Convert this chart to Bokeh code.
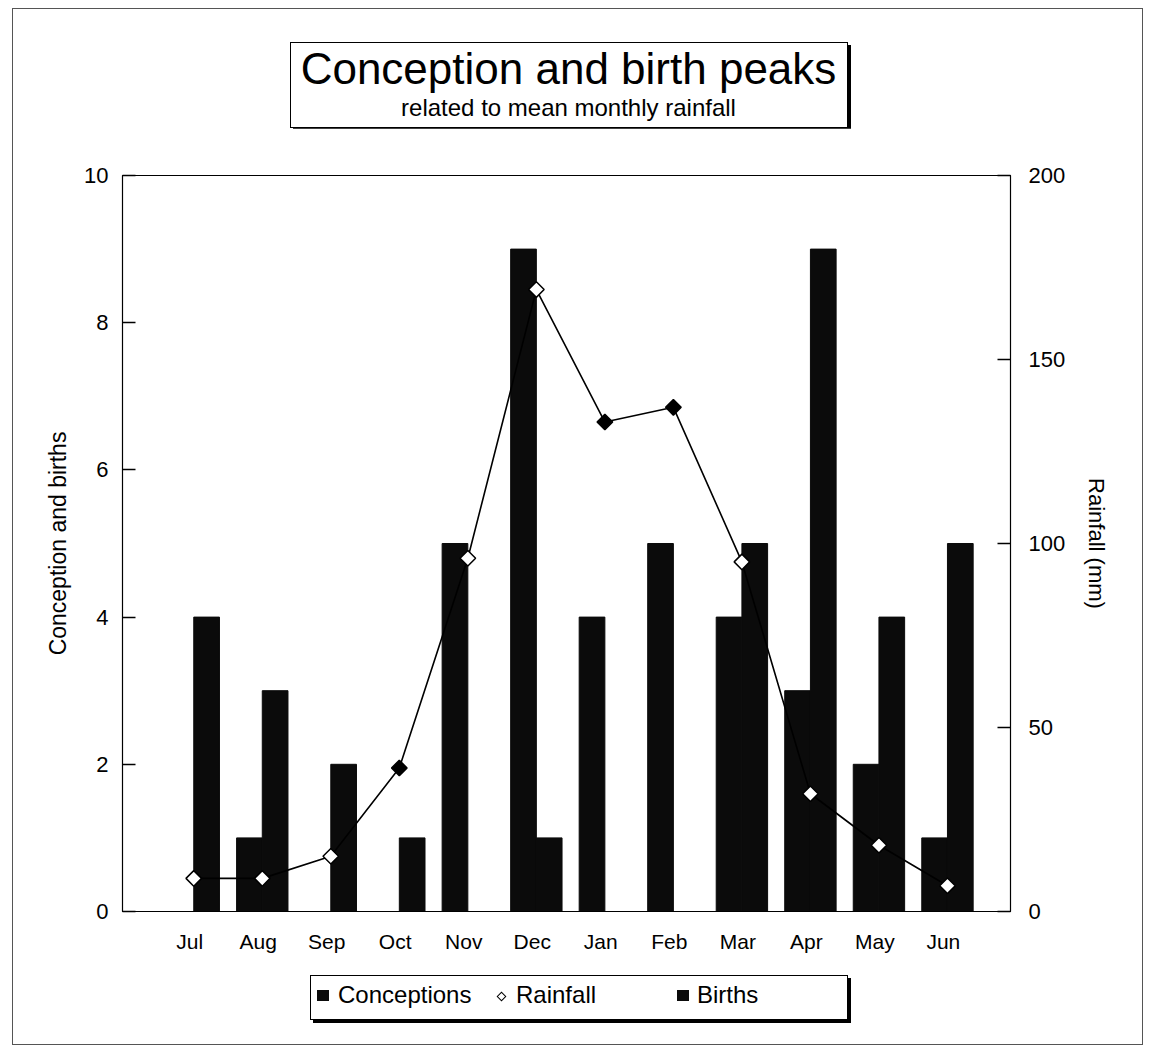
from bokeh.plotting import figure
from bokeh.models import (ColumnDataSource, FactorRange, Range1d, LinearAxis, FixedTicker,
                          Div, Column)
from bokeh.transform import dodge
from bokeh.embed import file_html
from bokeh.resources import INLINE

# ---- data ----
months = ["Jul", "Aug", "Sep", "Oct", "Nov", "Dec", "Jan", "Feb", "Mar", "Apr", "May", "Jun"]
conceptions = [0, 1, 0, 0, 5, 9, 4, 5, 4, 3, 2, 1]
births = [4, 3, 2, 1, 0, 1, 0, 0, 5, 9, 4, 5]
rainfall_mm = [9, 9, 15, 39, 96, 169, 133, 137, 95, 32, 18, 7]
left_ticks = [0, 2, 4, 6, 8, 10]
right_ticks = [0, 50, 100, 150, 200]
series_names = ["Conceptions", "Rainfall", "Births"]

# style only: marker fills as they appear in the scan
rain_marker_fill = ["white", "white", "white", "black", "white", "white",
                    "black", "black", "white", "white", "white", "white"]

FONT = "Liberation Sans"

# page geometry (canvas px)
PAGE_L, PAGE_T, PAGE_R, PAGE_B = 12, 8, 1143, 1045
TB_L, TB_T, TB_W, TB_H = 290, 42, 558, 86          # title box
LG_L, LG_T, LG_W, LG_H = 310, 975, 538, 45         # legend box
FL, FR, FT, FB = 122, 1010, 175, 911                # plot frame
FIG_TOP = TB_T + TB_H
FIG_BOTTOM = 960

src = ColumnDataSource(dict(month=months, conceptions=conceptions, births=births,
                            rainfall=rainfall_mm, rfill=rain_marker_fill))

p = figure(width=PAGE_R - PAGE_L - 2, height=FIG_BOTTOM - FIG_TOP,
           x_range=FactorRange(factors=months, range_padding=0.48, range_padding_units="absolute"),
           y_range=Range1d(0, 10),
           output_backend="svg", toolbar_location=None,
           min_border_left=FL - PAGE_L - 1, min_border_right=PAGE_R - 1 - FR,
           min_border_top=FT - FIG_TOP, min_border_bottom=FIG_BOTTOM - FB)
p.extra_y_ranges = {"rain": Range1d(0, 200)}

p.xgrid.visible = False
p.ygrid.visible = False
p.outline_line_color = "black"
p.outline_line_width = 1.2
p.background_fill_color = "white"
p.border_fill_color = "white"

bw = 0.375
shift = 0.06
r_con = p.vbar(x=dodge("month", -bw / 2 + shift, range=p.x_range), top="conceptions", width=bw,
               source=src, fill_color="#0b0b0b", line_color="#0b0b0b")
r_bir = p.vbar(x=dodge("month", bw / 2 + shift, range=p.x_range), top="births", width=bw,
               source=src, fill_color="#0b0b0b", line_color="#0b0b0b")

p.line(x=dodge("month", shift, range=p.x_range), y="rainfall", source=src, y_range_name="rain",
       line_color="black", line_width=1.6)
r_rain = p.scatter(x=dodge("month", shift, range=p.x_range), y="rainfall", source=src,
                   y_range_name="rain", marker="square", angle=45, angle_units="deg",
                   size=11, fill_color="rfill", line_color="black", line_width=1.5)

# ---- axes ----
xa = p.xaxis[0]
xa.major_tick_line_color = None
xa.minor_tick_line_color = None
xa.axis_line_color = "black"
xa.axis_line_width = 1.2
xa.major_label_text_font = FONT
xa.major_label_text_font_size = "21px"
xa.major_label_text_color = "black"
xa.major_label_standoff = 12

ya = p.yaxis[0]
ya.ticker = FixedTicker(ticks=left_ticks)
ya.major_tick_in = 13
ya.major_tick_out = 0
ya.minor_tick_line_color = None
ya.axis_line_color = "black"
ya.major_tick_line_color = "black"
ya.major_tick_line_width = 1.5
ya.major_label_text_font = FONT
ya.major_label_text_font_size = "22px"
ya.major_label_text_color = "black"
ya.major_label_standoff = 14
ya.axis_label = "Conception and births"
ya.axis_label_text_font = FONT
ya.axis_label_text_font_style = "normal"
ya.axis_label_text_font_size = "23px"
ya.axis_label_text_color = "black"
ya.axis_label_standoff = 10

ra = LinearAxis(y_range_name="rain", ticker=FixedTicker(ticks=right_ticks))
ra.major_tick_in = 13
ra.major_tick_out = 0
ra.minor_tick_line_color = None
ra.axis_line_color = "black"
ra.major_tick_line_color = "black"
ra.major_tick_line_width = 1.5
ra.major_label_text_font = FONT
ra.major_label_text_font_size = "22px"
ra.major_label_text_color = "black"
ra.major_label_standoff = 18
ra.axis_label = "Rainfall (mm)"
ra.axis_label_text_font = FONT
ra.axis_label_text_font_style = "normal"
ra.axis_label_text_font_size = "22px"
ra.axis_label_text_color = "black"
ra.axis_label_standoff = 16
p.add_layout(ra, "right")

# ---- title box ----
title_html = (
    f'<div style="width:{TB_W - 3}px;font-family:\'{FONT}\';color:black;'
    'text-align:center;line-height:1;">'
    '<div style="font-size:44px;margin-top:4px;">Conception and birth peaks</div>'
    '<div style="font-size:24px;margin-top:5px;">related to mean monthly rainfall</div></div>'
)
title_div = Div(text=title_html, width=TB_W, height=TB_H,
                margin=(TB_T - PAGE_T - 1, 0, 0, TB_L - PAGE_L - 1),
                styles={"border": "1.5px solid black", "box-shadow": "3px 3px 0 black",
                        "background": "white", "box-sizing": "border-box"})

# ---- legend box ----
sq = ('<span style="position:absolute;left:{l}px;top:14px;width:12px;height:11px;'
      'background:#0b0b0b;"></span>')
dm = ('<span style="position:absolute;left:{l}px;top:17px;width:7px;height:7px;'
      'border:1.5px solid black;background:white;transform:rotate(45deg);"></span>')
tx = ('<span style="position:absolute;left:{l}px;top:7px;font-size:24px;line-height:1;'
      'white-space:nowrap;">{t}</span>')
legend_html = (
    f'<div style="position:relative;width:{LG_W - 4}px;height:{LG_H - 4}px;'
    f'font-family:\'{FONT}\';color:black;">'
    + sq.format(l=6) + tx.format(l=27, t=series_names[0])
    + dm.format(l=187) + tx.format(l=205, t=series_names[1])
    + sq.format(l=366) + tx.format(l=386, t=series_names[2])
    + '</div>'
)
legend_div = Div(text=legend_html, width=LG_W, height=LG_H,
                 margin=(LG_T - FIG_BOTTOM, 0, 0, LG_L - PAGE_L - 1),
                 styles={"border": "1.5px solid black", "box-shadow": "3px 3px 0 black",
                         "background": "white", "box-sizing": "border-box"})

page = Column(children=[title_div, p, legend_div], spacing=0,
              width=PAGE_R - PAGE_L, height=PAGE_B - PAGE_T,
              margin=(PAGE_T, 0, 0, PAGE_L),
              styles={"border": "1px solid #555555", "box-sizing": "border-box",
                      "background": "white"})

open("out.html", "w").write(file_html(page, INLINE))
